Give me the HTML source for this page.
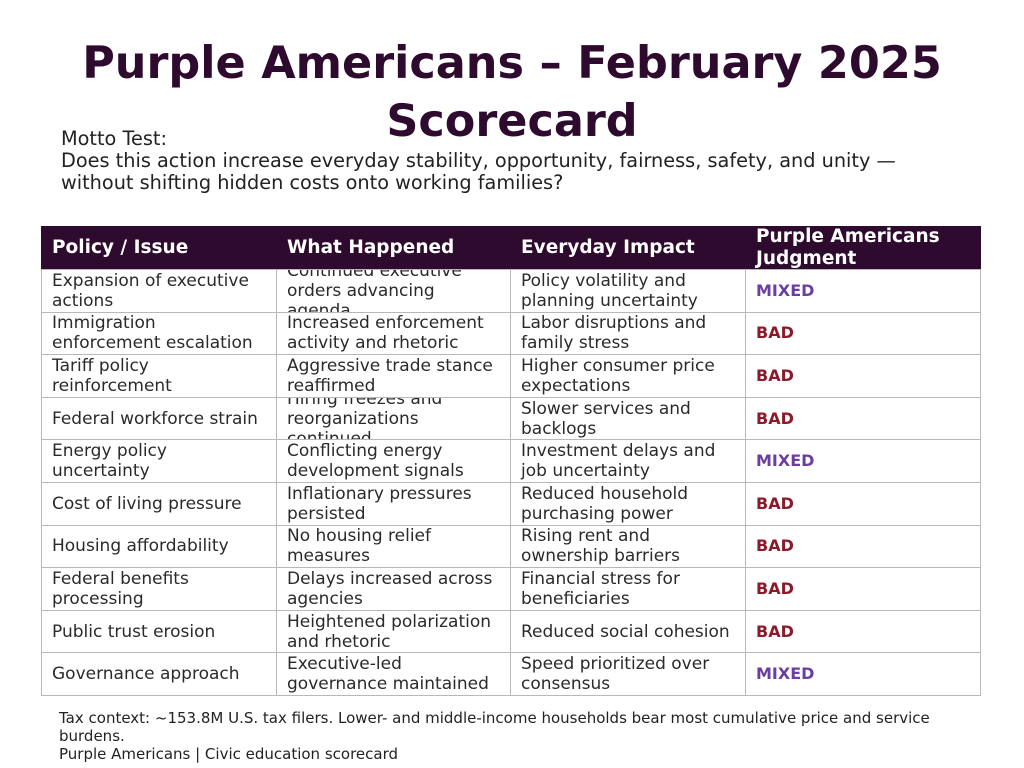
<!DOCTYPE html>
<html><head><meta charset="utf-8"><style>
body{margin:0;width:1024px;height:768px;background:#fff;position:relative;overflow:hidden;font-family:"DejaVu Sans",sans-serif;color:#2a2a2a}
#title{position:absolute;left:0;top:35px;width:1024px;text-align:center;font-weight:bold;font-size:44.5px;line-height:58px;color:#2e0a2e}
#motto{position:absolute;left:61px;top:128px;font-size:19.3px;line-height:22px;color:#222}
.c{position:absolute;box-sizing:border-box;border:1px solid #b8b8b8;display:flex;align-items:center;padding:0 8px 0 10px;overflow:hidden;font-size:17px;line-height:20px}
.h{background:#2e0a2e;color:#fff;font-weight:bold;font-size:18.5px;border-color:#2e0a2e;line-height:22px}
.m{color:#6b3fa0;font-weight:bold;font-size:16px}
.b{color:#8b1a2b;font-weight:bold;font-size:16px}
#foot{position:absolute;left:59px;top:709px;width:905px;font-size:15px;line-height:18px;color:#222}
</style></head><body>
<div id="title">Purple Americans – February 2025<br>Scorecard</div>
<div id="motto">Motto Test:<br>Does this action increase everyday stability, opportunity, fairness, safety, and unity —<br>without shifting hidden costs onto working families?</div>
<div id="tbl"></div>
<div id="foot">Tax context: ~153.8M U.S. tax filers. Lower- and middle-income households bear most cumulative price and service burdens.<br>Purple Americans | Civic education scorecard</div>
<script>
const headers=["Policy / Issue","What Happened","Everyday Impact","Purple Americans Judgment"];
const policies=["Expansion of executive actions","Immigration enforcement escalation","Tariff policy reinforcement","Federal workforce strain","Energy policy uncertainty","Cost of living pressure","Housing affordability","Federal benefits processing","Public trust erosion","Governance approach"];
const happened=["Continued executive orders advancing agenda","Increased enforcement activity and rhetoric","Aggressive trade stance reaffirmed","Hiring freezes and reorganizations continued","Conflicting energy development signals","Inflationary pressures persisted","No housing relief measures","Delays increased across agencies","Heightened polarization and rhetoric","Executive-led governance maintained"];
const impact=["Policy volatility and planning uncertainty","Labor disruptions and family stress","Higher consumer price expectations","Slower services and backlogs","Investment delays and job uncertainty","Reduced household purchasing power","Rising rent and ownership barriers","Financial stress for beneficiaries","Reduced social cohesion","Speed prioritized over consensus"];
const judgment=["MIXED","BAD","BAD","BAD","MIXED","BAD","BAD","BAD","BAD","MIXED"];
const tbl=document.getElementById('tbl');
const colX=[41,276,510,745,980];const top0=226,hH=43,rH=42.6;
function cell(x,y,w,h,txt,cls,name){const d=document.createElement('div');d.className='c '+cls;


d.style.left=x+'px';d.style.top=y+'px';d.style.width=(w+1)+'px';d.style.height=(h+1)+'px';d.textContent=txt;tbl.appendChild(d);}
headers.forEach((t,i)=>cell(colX[i],top0,colX[i+1]-colX[i],hH,t,'h','header-cell'));
policies.forEach((p,r)=>{const y=top0+hH+r*rH;const cols=[p,happened[r],impact[r],judgment[r]];
cols.forEach((t,i)=>cell(colX[i],y,colX[i+1]-colX[i],rH,t,i==3?(t=='BAD'?'b':'m'):'',i==3?'judgment-cell':'table-cell'));});
</script>
</body></html>
